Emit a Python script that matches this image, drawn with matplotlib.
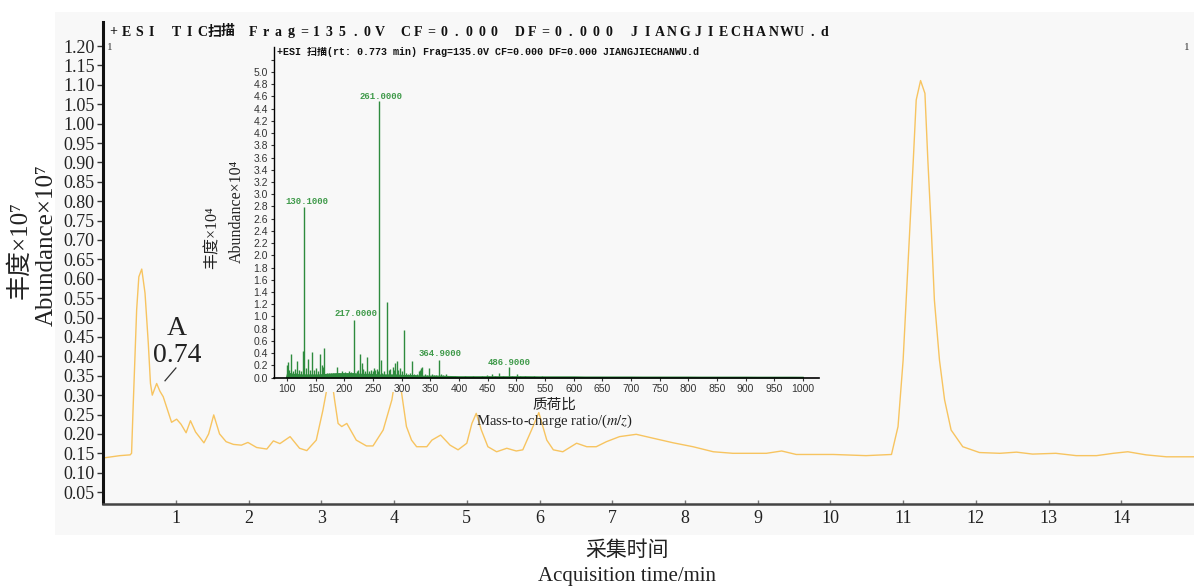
import matplotlib.pyplot as plt
from matplotlib.patches import Rectangle
import numpy as np

# ==============================
# DATA
# ==============================
# total ion chromatogram (acquisition time in min, abundance x1e7)
tic_time = [0.0, 0.23, 0.37, 0.39, 0.41, 0.46, 0.49, 0.53, 0.575, 0.62, 0.65, 0.675,
            0.735, 0.78, 0.825, 0.94, 1.01, 1.07, 1.14, 1.20, 1.27, 1.385, 1.45, 1.52,
            1.60, 1.69, 1.79, 1.90, 1.99, 2.11, 2.25, 2.34, 2.43, 2.57, 2.70, 2.80,
            2.93, 3.02, 3.09, 3.13, 3.18, 3.23, 3.28, 3.35, 3.48, 3.62, 3.71, 3.85,
            3.97, 4.03, 4.10, 4.17, 4.24, 4.31, 4.45, 4.52, 4.64, 4.77, 4.88, 5.00,
            5.07, 5.13, 5.20, 5.29, 5.41, 5.55, 5.68, 5.77, 5.89, 5.99, 6.10, 6.19,
            6.32, 6.51, 6.65, 6.78, 6.92, 7.10, 7.33, 7.56, 7.84, 8.11, 8.39, 8.66,
            9.12, 9.33, 9.53, 10.04, 10.49, 10.84, 10.93, 11.00, 11.07, 11.14, 11.18,
            11.24, 11.30, 11.34, 11.39, 11.43, 11.50, 11.57, 11.66, 11.82, 12.05,
            12.33, 12.56, 12.78, 13.10, 13.38, 13.66, 13.89, 14.09, 14.34, 14.62, 15.0]
tic_abund = [0.138, 0.144, 0.146, 0.150, 0.260, 0.520, 0.605, 0.625, 0.563, 0.434, 0.330, 0.300,
             0.330, 0.310, 0.296, 0.230, 0.238, 0.225, 0.203, 0.234, 0.205, 0.177, 0.200, 0.249,
             0.200, 0.180, 0.173, 0.171, 0.178, 0.165, 0.161, 0.182, 0.175, 0.193, 0.163, 0.157,
             0.184, 0.260, 0.330, 0.360, 0.290, 0.227, 0.219, 0.227, 0.184, 0.169, 0.169, 0.210,
             0.288, 0.360, 0.310, 0.219, 0.184, 0.167, 0.167, 0.184, 0.197, 0.171, 0.159, 0.176,
             0.227, 0.253, 0.210, 0.167, 0.154, 0.163, 0.156, 0.159, 0.210, 0.255, 0.184, 0.159,
             0.154, 0.176, 0.167, 0.167, 0.180, 0.193, 0.199, 0.189, 0.177, 0.167, 0.154, 0.150,
             0.150, 0.156, 0.147, 0.147, 0.144, 0.147, 0.219, 0.390, 0.648, 0.906, 1.061,
             1.111, 1.078, 0.906, 0.717, 0.545, 0.390, 0.288, 0.210, 0.167, 0.152,
             0.150, 0.153, 0.148, 0.150, 0.144, 0.144, 0.150, 0.154, 0.146, 0.141, 0.141]

# mass spectrum at rt 0.773 min (m/z, abundance x1e4)
ms_mz = [100.5, 102, 104, 107, 110, 113, 116, 118, 121, 124, 127, 130.1, 133, 136, 139,
         143, 147, 151, 154, 157, 160, 162, 165, 169, 173, 177, 180, 184, 187, 191, 195,
         198, 201, 204, 207, 210, 212, 214, 217, 221, 224, 227, 230, 232, 236, 240, 243,
         246, 249, 251, 254, 256, 258, 261, 263, 266, 269, 274, 277, 280, 284, 287, 289,
         291, 294, 296, 300, 304, 307, 311, 315, 318, 322, 326, 330, 332, 334, 336, 340,
         344, 348, 352, 356, 360, 364.9, 368, 372, 378, 384, 392, 410, 425, 440, 448, 452,
         458, 463, 470, 476, 486.9, 492, 501, 506, 515, 530, 545]
ms_int = [0.20, 0.26, 0.12, 0.38, 0.10, 0.14, 0.08, 0.27, 0.12, 0.10, 0.44, 2.79, 0.15, 0.31, 0.12,
          0.41, 0.12, 0.16, 0.10, 0.39, 0.20, 0.18, 0.49, 0.08, 0.07, 0.08, 0.07, 0.06, 0.17, 0.07, 0.11,
          0.08, 0.09, 0.07, 0.10, 0.08, 0.09, 0.08, 0.94, 0.10, 0.12, 0.38, 0.23, 0.14, 0.10, 0.34, 0.10,
          0.12, 0.10, 0.15, 0.12, 0.14, 0.10, 4.52, 0.28, 0.08, 0.10, 1.23, 0.12, 0.14, 0.17, 0.12, 0.24,
          0.27, 0.12, 0.15, 0.10, 0.77, 0.08, 0.06, 0.07, 0.27, 0.06, 0.05, 0.10, 0.13, 0.15, 0.17, 0.05,
          0.04, 0.15, 0.05, 0.04, 0.04, 0.29, 0.05, 0.04, 0.05, 0.03, 0.03, 0.02, 0.02, 0.03, 0.04, 0.03,
          0.06, 0.03, 0.07, 0.03, 0.17, 0.03, 0.06, 0.03, 0.03, 0.03, 0.03]

# baseline band of the spectrum
base_mz = [98, 100, 110, 125, 140, 155, 170, 185, 200, 215, 230, 245, 260, 275, 290, 305,
           320, 335, 350, 365, 380, 400, 420, 440, 460, 480, 500, 520, 540, 560, 580, 600,
           620, 640, 660, 680, 700, 720, 740, 760, 780, 800, 820, 840, 860, 880, 900, 920,
           940, 960, 980, 1000]
base_int = [0.0, 0.08, 0.06, 0.05, 0.05, 0.05, 0.06, 0.07, 0.07, 0.07, 0.06, 0.06, 0.05, 0.05,
            0.05, 0.04, 0.04, 0.03, 0.03, 0.03, 0.025, 0.02, 0.02, 0.02, 0.02, 0.02, 0.02, 0.02,
            0.018, 0.018, 0.018, 0.018, 0.016, 0.016, 0.016, 0.016, 0.016, 0.015, 0.015, 0.015,
            0.015, 0.015, 0.014, 0.014, 0.014, 0.014, 0.014, 0.013, 0.013, 0.013, 0.013, 0.012]

# labelled ions
label_text = ['130.1000', '261.0000', '217.0000', '364.9000', '486.9000']
label_mz = [134, 263, 220, 366, 487.6]
label_int = [2.88, 4.60, 1.04, 0.39, 0.25]

# ==============================
# FIGURE SETUP
# ==============================
W, H = 1194, 587
BG = '#f8f8f8'
SERIF = ['Liberation Serif', 'Noto Sans CJK SC', 'DejaVu Serif']
MONO = ['Liberation Mono', 'Noto Sans CJK SC', 'DejaVu Sans Mono']
plt.rcParams['mathtext.fontset'] = 'stix'


def fx(px):
    return px / W


def fy(py):
    return 1 - py / H


fig = plt.figure(figsize=(W / 100, H / 100), dpi=100)
fig.add_artist(Rectangle((fx(55), fy(535)), 1 - fx(55), fy(12) - fy(535),
                         transform=fig.transFigure, facecolor=BG, edgecolor='none', zorder=-1))

# --- main chromatogram ---
ax = fig.add_axes([fx(103.2), fy(503.5), 1 - fx(103.2), fy(22) - fy(503.5)])
ax.set_facecolor('none')
ax.plot(tic_time, tic_abund, color='#f7c460', linewidth=1.0)
ax.set_xlim(0, 15.0)
ax.set_ylim(0.0206, 1.262)

ax.set_yticks(np.arange(0.05, 1.201, 0.05))
ax.set_yticklabels([f'{v:.2f}' for v in np.arange(0.05, 1.201, 0.05)])
ax.set_xticks(range(1, 15))
for lbl in ax.get_xticklabels() + ax.get_yticklabels():
    lbl.set_family(SERIF)
    lbl.set_fontsize(13)
    lbl.set_color('#222222')
ax.tick_params(axis='y', direction='out', length=4, width=1, color='#333333', pad=2)
ax.tick_params(axis='x', direction='in', length=3, width=1, color='#777777', pad=5)

for side in ['top', 'right']:
    ax.spines[side].set_visible(False)
ax.spines['left'].set_linewidth(2.2)
ax.spines['left'].set_color('#111111')
ax.spines['bottom'].set_linewidth(1.8)
ax.spines['bottom'].set_color('#444444')

# annotation of the peak used for the spectrum
ax.plot([0.85, 1.0], [0.337, 0.370], color='#333333', linewidth=0.9)
ax.text(1.017, 0.473, 'A', fontsize=20, family=SERIF, ha='center', va='center', color='#222222')
ax.text(1.015, 0.401, '0.74', fontsize=20, family=SERIF, ha='center', va='center', color='#222222')

# axis labels
fig.text(fx(20), fy(250), '丰度×10⁷', rotation=90, fontsize=18, family=SERIF,
         ha='center', va='center', color='#222222')
fig.text(fx(47), fy(245), 'Abundance×10⁷', rotation=90, fontsize=18, family=SERIF,
         ha='center', va='center', color='#222222')
fig.text(fx(627), fy(551), '采集时间', fontsize=15, family=SERIF,
         ha='center', va='center', color='#222222')
fig.text(fx(627), fy(577), 'Acquisition time/min', fontsize=15, family=SERIF,
         ha='center', va='center', color='#222222')

# header text, drawn with a wide fixed letter pitch like the instrument software
title = '+ESI TIC扫描 Frag=135.0V CF=0.000 DF=0.000 JIANGJIECHANWU.d'
pitch = 12.7
for i, ch in enumerate(title):
    fig.text(fx(107 + i * pitch + pitch / 2), fy(32), ch, fontsize=10,
             family=SERIF, fontweight='bold', ha='center', va='center', color='#111111')
fig.text(fx(110), fy(47), '1', fontsize=8, family=SERIF, ha='center', va='center', color='#333333')
fig.text(fx(1187), fy(47), '1', fontsize=8, family=SERIF, ha='center', va='center', color='#333333')

# cover behind the inset
fig.add_artist(Rectangle((fx(203), fy(392)), fx(830) - fx(203), fy(40) - fy(392),
                         transform=fig.transFigure, facecolor=BG, edgecolor='none', zorder=0.5))

# --- inset mass spectrum ---
ins = fig.add_axes([fx(274), fy(377.5), fx(819) - fx(274), fy(47) - fy(377.5)], zorder=1)
ins.set_facecolor('none')
ins.fill_between(base_mz, 0, base_int, color='#2e8b3e', linewidth=0.8)
ins.vlines(ms_mz, 0, ms_int, color='#2e8b3e', linewidth=1.0)
for txt, mz, inten in zip(label_text, label_mz, label_int):
    ins.text(mz, inten, txt, fontsize=6.5, family=MONO, fontweight='bold',
             color='#3f9a4a', ha='center', va='center')
ins.set_xlim(77, 1028)
ins.set_ylim(0, 5.41)
ins.set_xticks(range(100, 1001, 50))
yt = np.arange(0, 5.21, 0.2)
ins.set_yticks(yt)
ins.set_yticklabels([f'{v:.1f}' if v < 5.05 else '' for v in yt])
for lbl in ins.get_xticklabels() + ins.get_yticklabels():
    lbl.set_family(['Liberation Sans', 'DejaVu Sans'])
    lbl.set_fontsize(7.5)
    lbl.set_color('#333333')
ins.tick_params(axis='both', direction='out', length=2.5, width=0.8, color='#333333', pad=2)
for side in ['top', 'right']:
    ins.spines[side].set_visible(False)
ins.spines['left'].set_linewidth(1.0)
ins.spines['bottom'].set_linewidth(1.2)
ins.text(0.006, 0.985, '+ESI 扫描(rt: 0.773 min) Frag=135.0V CF=0.000 DF=0.000 JIANGJIECHANWU.d',
         transform=ins.transAxes, fontsize=7.2, family=MONO, fontweight='bold',
         ha='left', va='center', color='#111111')

fig.text(fx(213), fy(238), '丰度×10⁴', rotation=90, fontsize=11.5, family=SERIF,
         ha='center', va='center', color='#222222', zorder=2)
fig.text(fx(237), fy(211), 'Abundance×10⁴', rotation=90, fontsize=11.5, family=SERIF,
         ha='center', va='center', color='#222222', zorder=2)
fig.text(fx(554), fy(405), '质荷比', fontsize=10.5, family=SERIF,
         ha='center', va='center', color='#222222', zorder=2)
fig.text(fx(554), fy(421), 'Mass-to-charge ratio/($m/z$)', fontsize=10.5, family=SERIF,
         ha='center', va='center', color='#222222', zorder=2)

fig.savefig('out.png', dpi=100)
